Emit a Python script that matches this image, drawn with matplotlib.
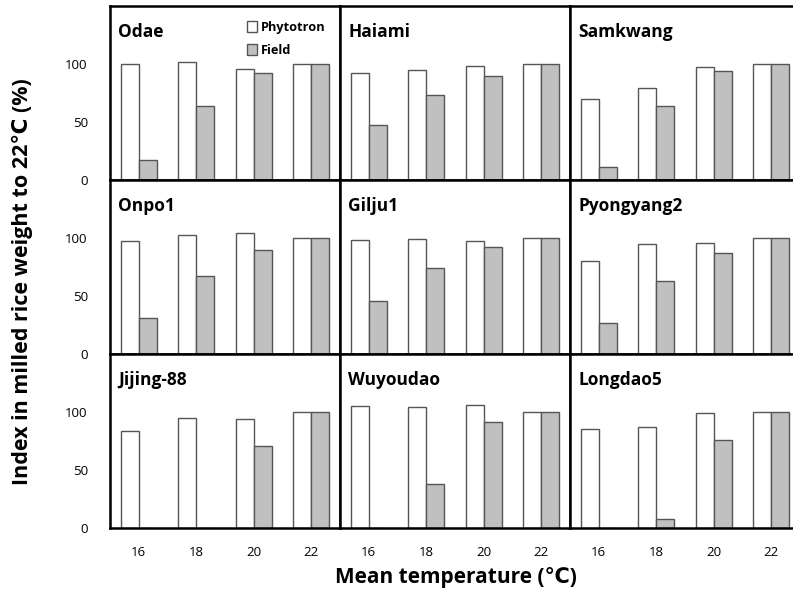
import matplotlib
matplotlib.use("Agg")
import matplotlib.pyplot as plt
import numpy as np

plt.rcParams['font.family'] = ['Open Sans', 'DejaVu Sans']

temps = ["16", "18", "20", "22"]
varieties = ["Odae", "Haiami", "Samkwang",
             "Onpo1", "Gilju1", "Pyongyang2",
             "Jijing-88", "Wuyoudao", "Longdao5"]
phytotron = [
    [100, 102, 96, 100],
    [92, 95, 98, 100],
    [70, 79, 97, 100],
    [97, 103, 104, 100],
    [98, 99, 97, 100],
    [80, 95, 96, 100],
    [84, 95, 94, 100],
    [105, 104, 106, 100],
    [85, 87, 99, 100],
]
field = [
    [17, 64, 92, 100],
    [47, 73, 90, 100],
    [11, 64, 94, 100],
    [31, 67, 90, 100],
    [46, 74, 92, 100],
    [27, 63, 87, 100],
    [0, 0, 71, 100],
    [0, 38, 91, 100],
    [0, 8, 76, 100],
]
yticks = [0, 50, 100]

W, H = 793, 592
fig = plt.figure(figsize=(W / 100, H / 100), dpi=100)

left, top, colw, rowh = 110, 6, 230, 174
bw = 0.31
x = np.arange(len(temps))

for i, name in enumerate(varieties):
    r, c = divmod(i, 3)
    ax = fig.add_axes([(left + c * colw) / W, 1 - (top + (r + 1) * rowh) / H,
                       colw / W, rowh / H])
    ax.bar(x - bw, phytotron[i], width=bw, align='edge', color='white',
           edgecolor='#555555', linewidth=1.0, label='Phytotron', zorder=2)
    ax.bar(x, field[i], width=bw, align='edge', color='#c0c0c0',
           edgecolor='#555555', linewidth=1.0, label='Field', zorder=2)
    ax.set_xlim(-0.5, 3.5)
    ax.set_ylim(0, 150)
    for s in ax.spines.values():
        s.set_linewidth(1.8)
        s.set_color('black')
    ax.tick_params(length=0)
    ax.set_yticks(yticks)
    ax.set_xticks(x)
    if c == 0:
        ax.set_yticklabels([str(v) for v in yticks], fontsize=9.5)
        ax.tick_params(axis='y', pad=16)
    else:
        ax.set_yticklabels([])
    if r == 2:
        ax.set_xticklabels(temps, fontsize=9.5)
        ax.tick_params(axis='x', pad=13)
    else:
        ax.set_xticklabels([])
    ax.text(0.035, 0.85, name, transform=ax.transAxes, fontsize=12.5,
            fontweight='bold', ha='left', va='center')
    if i == 0:
        ax.legend(loc='upper right', bbox_to_anchor=(0.97, 0.96), frameon=False,
                  prop={'size': 9.2, 'weight': 'bold'}, handlelength=0.8,
                  handleheight=0.9, handletextpad=0.3, labelspacing=0.8,
                  borderaxespad=0.2)

fig.text(22 / W, 1 - 282 / H, "Index in milled rice weight to 22\u2103 (%)",
         rotation=90, ha='center', va='center', fontsize=15.5, fontweight='bold')
fig.text(456 / W, 1 - 577 / H, "Mean temperature (\u2103)",
         ha='center', va='center', fontsize=15, fontweight='bold')

fig.savefig("out.png", dpi=100)
